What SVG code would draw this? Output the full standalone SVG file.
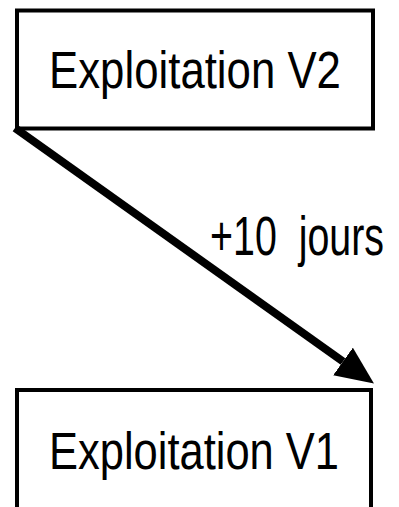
<svg xmlns="http://www.w3.org/2000/svg" width="399" height="507" viewBox="0 0 399 507">
  <style>
    .box { fill: #ffffff; stroke: #000000; stroke-width: 4; }
    .label { font-family: "Liberation Sans", Arial, sans-serif; font-size: 52px; fill: #000000; white-space: pre; }
    .edge-label { font-size: 55px; }
    .edge { stroke: #000000; stroke-width: 8; fill: none; }
  </style>
  <defs>
    <marker id="arrowhead" markerUnits="userSpaceOnUse" markerWidth="40" markerHeight="36" refX="0" refY="17" orient="auto">
      <path d="M0,0 L38,17 L0,34 Z" fill="#000000"/>
    </marker>
  </defs>
  <rect width="399" height="507" fill="#ffffff"/>

  <!-- condensed labels: horizontal squeeze keeps the narrow letterforms -->
  <g id="node-v2">
    <rect class="box" x="17" y="10.5" width="356" height="118"/>
    <text class="label" transform="translate(195 88) scale(0.8415 1)" x="0" y="0" text-anchor="middle">Exploitation V2</text>
  </g>

  <g id="node-v1">
    <rect class="box" x="17" y="390" width="354" height="150"/>
    <text class="label" transform="translate(194 469) scale(0.836 1)" x="0" y="0" text-anchor="middle">Exploitation V1</text>
  </g>

  <g id="connectors">
    <line class="edge" x1="15" y1="128" x2="343" y2="361.5" marker-end="url(#arrowhead)"/>
    <text class="label edge-label" transform="translate(210 255) scale(0.716 1)" x="0" y="0">+10  jours</text>
  </g>
</svg>
